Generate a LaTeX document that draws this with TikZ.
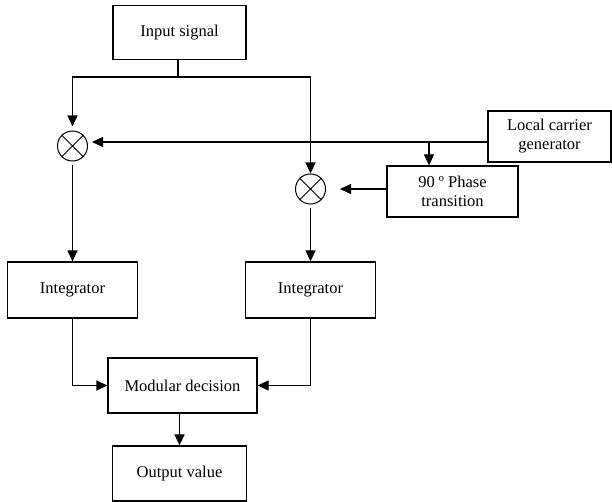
\documentclass[tikz,border=0pt]{standalone}
\usepackage{fontspec}
\setmainfont{Liberation Serif}
\usetikzlibrary{positioning, arrows.meta}

\begin{document}
\begin{tikzpicture}[x=1pt, y=-1pt,
        blk/.style={draw, line width=1.2pt, minimum width=#1, minimum height=54pt, align=center, inner sep=2pt, font=\fontsize{16.5}{19}\selectfont},
        mix/.style={draw, circle, minimum size=30pt, inner sep=0pt, line width=1pt},
        flow/.style={-{Triangle[length=11pt,width=10pt]}, line width=1.2pt}
      ]
        \useasboundingbox (0,0) rectangle (612,502);
        \node[blk=133pt] (in) at (179.5,32.5) {Input signal};
        \node[mix] (mxa) at (72.5,146) {};
        \node[mix] (mxb) at (310.5,189) {};
        \node[blk=123pt, minimum height=51pt] (lcg) at (549.5,136.5) {Local carrier\\generator};
        \node[blk=131pt, minimum height=51pt] (pht) at (452.5,191.5) {90 º Phase\\transition};
        \node[blk=130pt, minimum height=56pt] (inta) at (72.5,290) {Integrator};
        \node[blk=130pt, minimum height=56pt] (intb) at (310.5,290) {Integrator};
        \node[blk=149pt, minimum height=55pt] (mod) at (182.5,385.5) {Modular decision};
        \node[blk=134pt, minimum height=55pt] (out) at (179.5,473.5) {Output value};
        % multiplier crosses
        \foreach \m in {mxa,mxb}
          \draw[line width=1pt] (\m.45) -- (\m.225) (\m.135) -- (\m.315);
        % input split
        \coordinate (split) at (178,77);
        \coordinate (tap) at (429,142);
        \draw[line width=1.2pt] (in.south -| split) -- (split);
        \draw[flow, shorten >=4pt] (split) -| (mxa.north);
        \draw[flow] (split) -| (mxb.north);
        % carrier paths
        \draw[flow, shorten >=4pt] (lcg.west |- tap) -- (mxa.east |- tap);
        \draw[flow] (tap) -- (tap |- pht.north);
        \draw[flow, shorten >=14pt] (pht.west |- mxb.east) -- (mxb.east);
        % to integrators and decision
        \draw[flow, shorten <=4pt] (mxa.south) -- (inta.north);
        \draw[flow, shorten <=4pt] (mxb.south) -- (intb.north);
        \draw[flow] (inta.south) |- (mod.west);
        \draw[flow] (intb.south) |- (mod.east);
        \draw[flow] (mod.south -| out.north) -- (out.north);
      \end{tikzpicture}
\end{document}
